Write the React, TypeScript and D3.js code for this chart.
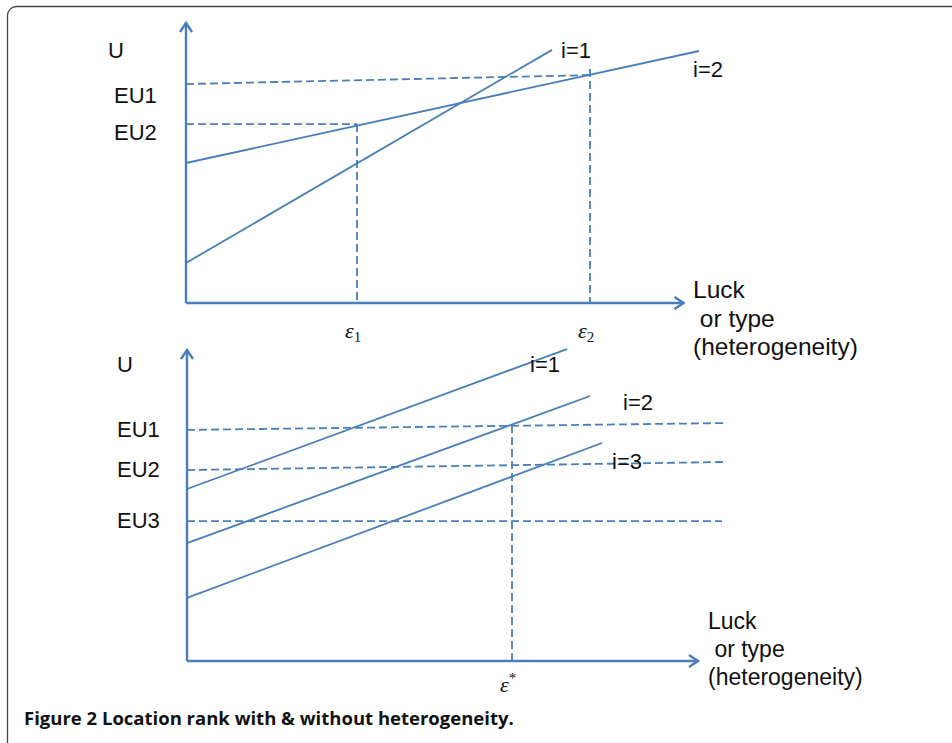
import React from "react";
import * as d3 from "d3";

// ---- Data (abstract units: x 0..100 along axis, y 0..100 up the axis) ----
type Seg = { name: string; x0: number; y0: number; x1: number; y1: number };

const topLines: Seg[] = [
  { name: "i=1", x0: 0, y0: 14.3, x1: 73.2, y1: 90.4 },
  { name: "i=2", x0: 0, y0: 50, x1: 102.6, y1: 90 },
];
const topLevels: Seg[] = [
  { name: "EU1", x0: 0, y0: 78.2, x1: 80.8, y1: 81.4 },
  { name: "EU2", x0: 0, y0: 63.9, x1: 34.2, y1: 63.9 },
];
const topDrops: Seg[] = [
  { name: "ε1", x0: 34.2, y0: 63.9, x1: 34.2, y1: 0 },
  { name: "ε2", x0: 80.8, y0: 83.6, x1: 80.8, y1: 0 },
];

const botLines: Seg[] = [
  { name: "i=1", x0: 0, y0: 55.3, x1: 76, y1: 100.3 },
  { name: "i=2", x0: 0, y0: 37.9, x1: 80.6, y1: 85.2 },
  { name: "i=3", x0: 0, y0: 20.3, x1: 83, y1: 70.1 },
];
const botLevels: Seg[] = [
  { name: "EU1", x0: 0, y0: 74.3, x1: 107.2, y1: 76.5 },
  { name: "EU2", x0: 0, y0: 61.4, x1: 108, y1: 64 },
  { name: "EU3", x0: 0, y0: 45, x1: 107, y1: 45 },
];
const botDrops: Seg[] = [{ name: "ε*", x0: 65, y0: 75.9, x1: 65, y1: 0 }];

const xLabelLines = ["Luck", " or type", "(heterogeneity)"];
const caption = "Figure 2 Location rank with & without heterogeneity.";

const BLUE = "#4a7ebb";
const SANS = "'Liberation Sans', Arial, sans-serif";
const SERIF = "'Liberation Serif', 'Times New Roman', serif";

function Arrow({ x, y, dir }: { x: number; y: number; dir: "up" | "right" }) {
  const d =
    dir === "up"
      ? `M${x - 6},${y + 9} L${x},${y} L${x + 6},${y + 9}`
      : `M${x - 9},${y - 6} L${x},${y} L${x - 9},${y + 6}`;
  return <path d={d} fill="none" stroke={BLUE} strokeWidth={2.4} />;
}

export default function App() {
  // top panel scales
  const tx = d3.scaleLinear().domain([0, 100]).range([186, 686]);
  const ty = d3.scaleLinear().domain([0, 100]).range([303, 23]);
  // bottom panel scales
  const bx = d3.scaleLinear().domain([0, 100]).range([187, 687]);
  const by = d3.scaleLinear().domain([0, 100]).range([661, 350]);

  const seg = (
    s: Seg,
    sx: d3.ScaleLinear<number, number>,
    sy: d3.ScaleLinear<number, number>,
    dashed: boolean,
    key: string
  ) => (
    <line
      key={key}
      x1={sx(s.x0)}
      y1={sy(s.y0)}
      x2={sx(s.x1)}
      y2={sy(s.y1)}
      stroke={BLUE}
      strokeWidth={1.8}
      strokeDasharray={dashed ? "8,4" : undefined}
    />
  );

  const txt = { fontFamily: SANS, fontSize: 22, fill: "#111" } as const;

  return (
    <svg
      width={952}
      height={743}
      style={{ position: "absolute", left: 0, top: 0, background: "#fff" }}
    >
      <rect x={7.5} y={6.5} width={1000} height={1000} rx={9} fill="none" stroke="#444" strokeWidth={1.3} />

      {/* ---------- top panel ---------- */}
      <line x1={tx(0)} y1={ty(0)} x2={tx(0)} y2={ty(100)} stroke={BLUE} strokeWidth={2.4} />
      <Arrow x={tx(0)} y={ty(100)} dir="up" />
      <line x1={tx(0)} y1={ty(0)} x2={tx(99.5)} y2={ty(0)} stroke={BLUE} strokeWidth={2.4} />
      <Arrow x={tx(99.5)} y={ty(0)} dir="right" />
      {topLevels.map((s, i) => seg(s, tx, ty, true, "tl" + i))}
      {topDrops.map((s, i) => seg(s, tx, ty, true, "td" + i))}
      {topLines.map((s, i) => seg(s, tx, ty, false, "tn" + i))}

      <text x={108} y={58} {...txt}>U</text>
      {topLevels.map((s, i) => (
        <text key={"tlt" + i} x={114} y={ty(s.y0) + 19 - i * 3} {...txt}>{s.name}</text>
      ))}
      <text x={tx(topLines[0].x1) + 9} y={ty(topLines[0].y1) + 8} {...txt}>{topLines[0].name}</text>
      <text x={tx(topLines[1].x1) - 6} y={ty(topLines[1].y1) + 26} {...txt}>{topLines[1].name}</text>
      {topDrops.map((s, i) => (
        <text key={"tdt" + i} x={tx(s.x0) - 12} y={338} fontFamily={SERIF} fontSize={22} fontStyle="italic" fill="#111">
          ε<tspan fontStyle="normal" fontSize={15} dy={4}>{s.name.slice(1)}</tspan>
        </text>
      ))}
      {xLabelLines.map((l, i) => (
        <text key={"txl" + i} x={693} y={298 + i * 28.5} {...txt} fontSize={24.5} style={{ whiteSpace: "pre" }}>{l}</text>
      ))}

      {/* ---------- bottom panel ---------- */}
      <line x1={bx(0)} y1={by(0)} x2={bx(0)} y2={by(100)} stroke={BLUE} strokeWidth={2.4} />
      <Arrow x={bx(0)} y={by(100)} dir="up" />
      <line x1={bx(0)} y1={by(0)} x2={bx(102.2)} y2={by(0)} stroke={BLUE} strokeWidth={2.4} />
      <Arrow x={bx(102.2)} y={by(0)} dir="right" />
      {botLevels.map((s, i) => seg(s, bx, by, true, "bl" + i))}
      {botDrops.map((s, i) => seg(s, bx, by, true, "bd" + i))}
      {botLines.map((s, i) => seg(s, bx, by, false, "bn" + i))}

      <text x={117} y={372} {...txt}>U</text>
      {botLevels.map((s, i) => (
        <text key={"blt" + i} x={117} y={by(s.y0) + 7} {...txt}>{s.name}</text>
      ))}
      <text x={530} y={372} {...txt}>{botLines[0].name}</text>
      <text x={623} y={410} {...txt}>{botLines[1].name}</text>
      <text x={612} y={469} {...txt}>{botLines[2].name}</text>
      <text x={bx(botDrops[0].x0) - 12} y={692} fontFamily={SERIF} fontSize={22} fontStyle="italic" fill="#111">
        ε<tspan fontStyle="normal" fontSize={15} dy={-9}>*</tspan>
      </text>
      {xLabelLines.map((l, i) => (
        <text key={"bxl" + i} x={708} y={629 + i * 28} {...txt} fontSize={23} style={{ whiteSpace: "pre" }}>{l}</text>
      ))}

      <text x={24} y={725} fontFamily="'Open Sans', 'Noto Sans', sans-serif" fontWeight="bold" fontSize={18.5} fill="#111">
        {caption}
      </text>
    </svg>
  );
}
